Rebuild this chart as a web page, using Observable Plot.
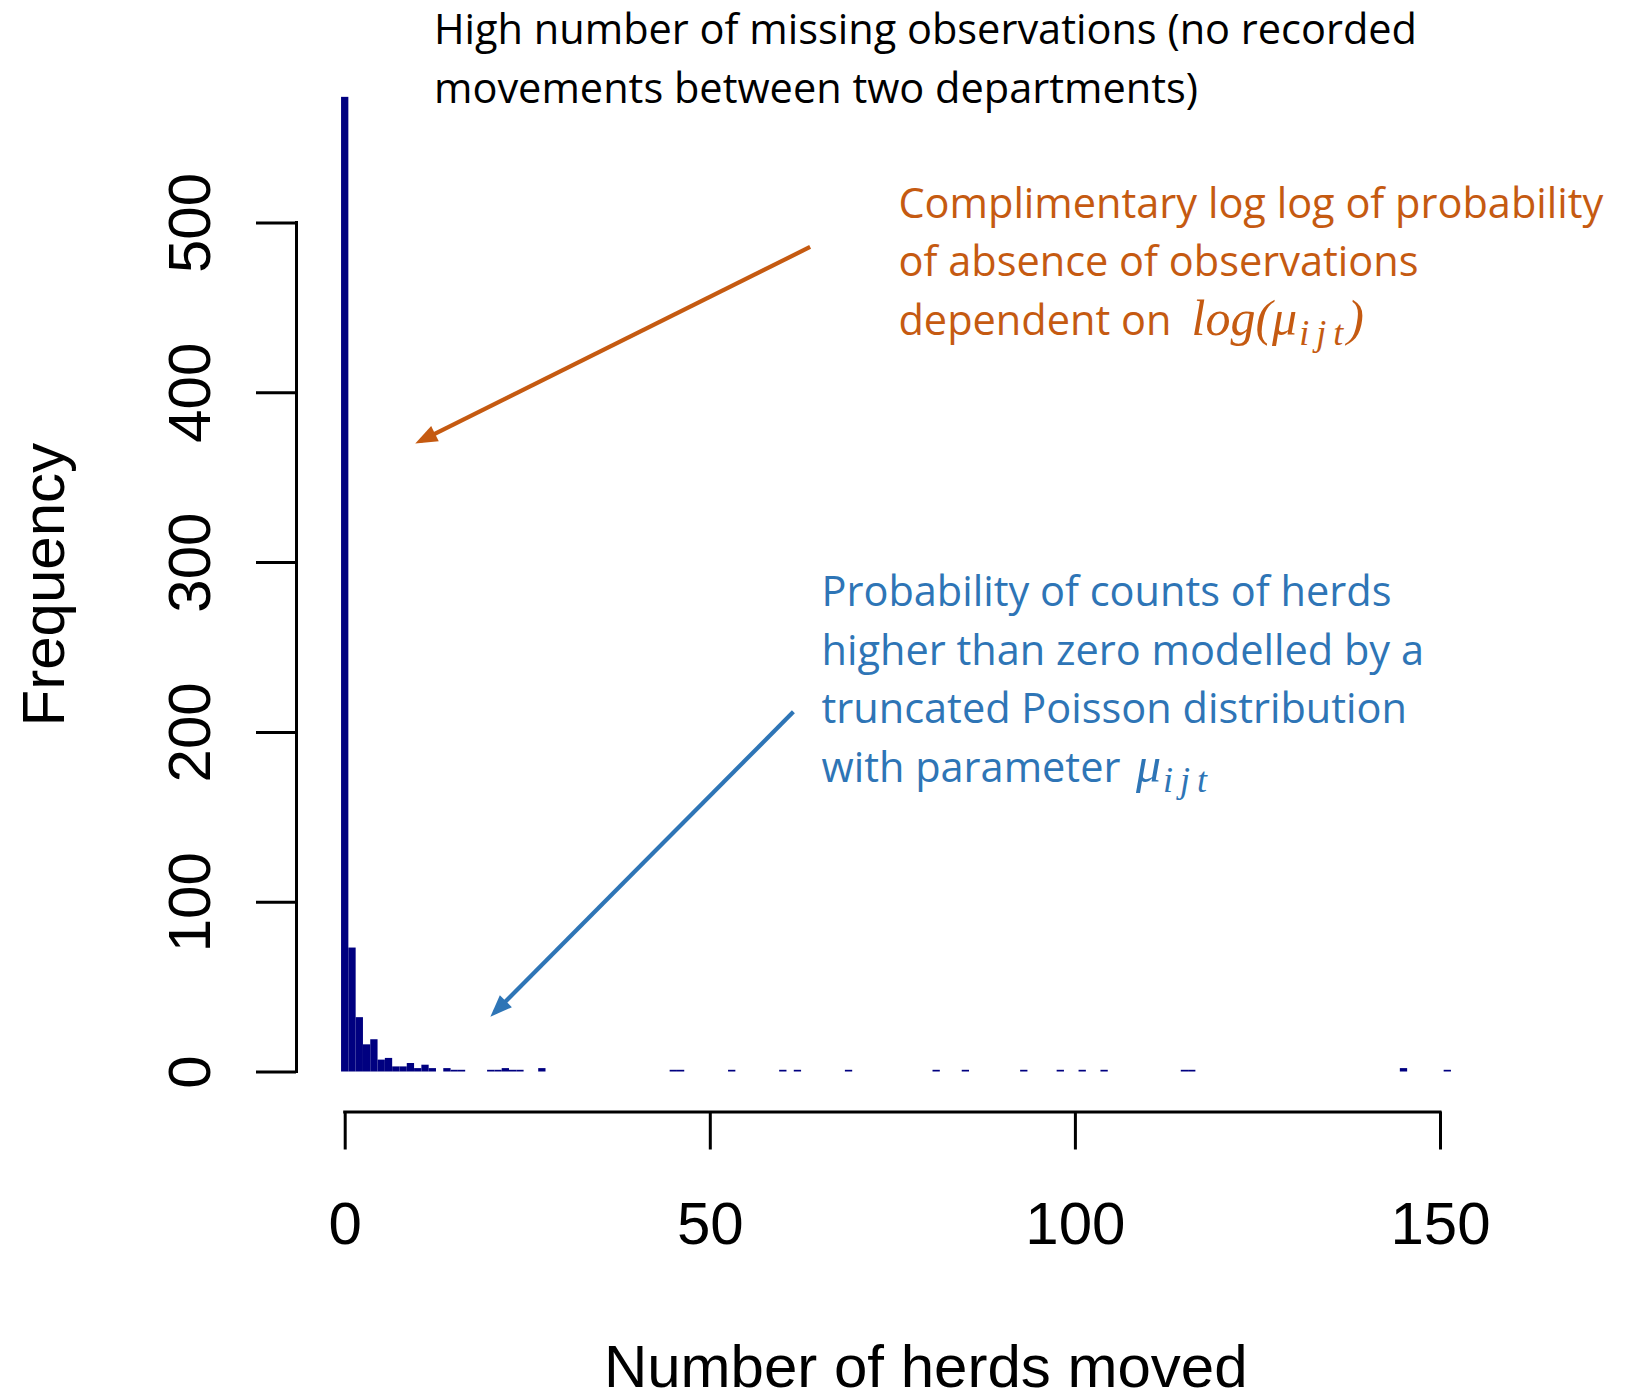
<!DOCTYPE html>
<html>
<head>
<meta charset="utf-8">
<script src="https://cdn.jsdelivr.net/npm/d3@7"></script>
<script src="https://cdn.jsdelivr.net/npm/@observablehq/plot@0.6"></script>
<style>
  html, body { margin: 0; padding: 0; background: #fff; overflow: hidden; }
</style>
</head>
<body>
<div id="chart"></div>
<script>
// Histogram: number of herds moved between two departments (unit-width bins centred on each count)
const herdsMoved = [0, 1, 2, 3, 4, 5, 6, 7, 8, 9, 10, 11, 12, 14, 15, 16, 20, 21, 22, 23, 24, 27,
                    45, 46, 53, 60, 62, 69, 81, 85, 93, 98, 101, 104, 115, 116, 145, 151];
const frequency  = [574, 73, 32, 16, 19, 7, 8, 3, 3, 5, 2, 4, 2, 2, 1, 1, 1, 1, 2, 1, 1, 2,
                    1, 1, 1, 1, 1, 1, 1, 1, 1, 1, 1, 1, 1, 1, 2, 1];
const xTicks = [0, 50, 100, 150];
const yTicks = [0, 100, 200, 300, 400, 500];

const bins = herdsMoved.map((value, i) => ({value, count: frequency[i]}));

const ORANGE = "#C55A11";
const BLUE = "#2E75B6";
const AXIS_FONT = "Liberation Sans, Arial, Helvetica, sans-serif";
const NOTE_FONT = "Open Sans, sans-serif";
const MATH_FONT = "Liberation Serif, Times New Roman, serif";
const NOTE_SIZE = 41.5;
const MATH_SIZE = 50;
const SUB_SIZE = 36;

// Annotation layout, expressed in chart units (herds, frequency); y is the last line's baseline
const noteBlocks = [
  {x: 12.16, y: 570.7, fill: "black",
   text: "High number of missing observations (no recorded\nmovements between two departments)"},
  {x: 75.77, y: 468.6, fill: ORANGE,
   text: "Complimentary log log of probability\nof absence of observations"},
  {x: 75.77, y: 434.2, fill: ORANGE, text: "dependent on"},
  {x: 65.23, y: 205.3, fill: BLUE,
   text: "Probability of counts of herds\nhigher than zero modelled by a\ntruncated Poisson distribution"},
  {x: 65.23, y: 170.8, fill: BLUE, text: "with parameter"}
];
const mathNotes = [
  {x: 115.9, y: 434.2, fill: ORANGE, text: "log(μ_{ijt})"},
  {x: 108.3, y: 170.8, fill: BLUE, text: "μ_{ijt}"}
];
const arrows = [
  {x1: 63.67, y1: 485.9, x2: 10.33, y2: 371.7, stroke: ORANGE},
  {x1: 61.38, y1: 212.1, x2: 20.46, y2: 35.0, stroke: BLUE}
];

// Solid triangular arrowhead
function solidHead(color, context) {
  const ns = "http://www.w3.org/2000/svg";
  const doc = (context && context.document) || document;
  const marker = doc.createElementNS(ns, "marker");
  marker.setAttribute("viewBox", "-18 -10 26 20");
  marker.setAttribute("markerWidth", 26);
  marker.setAttribute("markerHeight", 20);
  marker.setAttribute("markerUnits", "userSpaceOnUse");
  marker.setAttribute("orient", "auto");
  marker.setAttribute("refX", 0);
  marker.setAttribute("refY", 0);
  const path = doc.createElementNS(ns, "path");
  path.setAttribute("d", "M6,0L-16,-8.5L-16,8.5Z");
  path.setAttribute("fill", color);
  marker.appendChild(path);
  return marker;
}

// Layout
const W = 1638, H = 1392;
const M = {left: 344.7, right: 198, top: 222.5, bottom: 320.5};
const frameW = W - M.left - M.right;
const frameH = H - M.top - M.bottom;
const axisOffset = 48.7;   // gap between plotting region and y axis (px)
const xAxisOffset = 40;    // gap between plotting region and x axis (px)
const yTickLen = 40, xTickLen = 38;

const chart = Plot.plot({
  width: W,
  height: H,
  marginLeft: M.left,
  marginRight: M.right,
  marginTop: M.top,
  marginBottom: M.bottom,
  style: {fontFamily: AXIS_FONT, background: "white", color: "black"},
  x: {domain: [0, 150], axis: null},
  y: {domain: [0, 500], axis: null},
  marks: [
    // bars
    Plot.rectY(bins, {
      x1: d => d.value - 0.5,
      x2: d => d.value + 0.5,
      y1: 0,
      y2: "count",
      fill: "#000080",
      inset: 0
    }),

    // y axis: line, ticks, labels, title
    Plot.ruleX([0], {y1: 0, y2: 500, dx: -axisOffset, stroke: "black", strokeWidth: 3, strokeLinecap: "square"}),
    Plot.ruleY(yTicks, {y: d => d, insetRight: frameW - yTickLen, dx: -axisOffset - yTickLen,
                        stroke: "black", strokeWidth: 3}),
    Plot.text(yTicks, {
      y: d => d, text: d => String(d), frameAnchor: "left", dx: -135.7,
      rotate: -90, textAnchor: "middle", lineAnchor: "bottom",
      fontSize: 60, fill: "black"
    }),
    Plot.text(["Frequency"], {
      y: () => d3.max(frequency) / 2, text: d => d, frameAnchor: "left", dx: -281.5,
      rotate: -90, textAnchor: "middle", lineAnchor: "bottom",
      fontSize: 60, fill: "black"
    }),

    // x axis: line, ticks, labels, title
    Plot.ruleY([0], {x1: 0, x2: 150, dy: xAxisOffset, stroke: "black", strokeWidth: 3, strokeLinecap: "square"}),
    Plot.ruleX(xTicks, {x: d => d, insetTop: frameH - xTickLen, dy: xAxisOffset + xTickLen,
                        stroke: "black", strokeWidth: 3}),
    Plot.text(xTicks, {
      x: d => d, text: d => String(d), frameAnchor: "bottom", dy: 171.5,
      textAnchor: "middle", lineAnchor: "bottom", fontSize: 60, fill: "black"
    }),
    Plot.text(["Number of herds moved"], {
      x: () => 79.5, text: d => d, frameAnchor: "bottom", dy: 315,
      textAnchor: "middle", lineAnchor: "bottom", fontSize: 60, fill: "black"
    }),

    // annotations
    Plot.link(arrows, {
      x1: "x1", y1: "y1", x2: "x2", y2: "y2",
      stroke: d => d.stroke, strokeWidth: 4.2, markerEnd: solidHead
    }),
    Plot.text(noteBlocks, {
      x: "x", y: "y", text: "text", fill: d => d.fill,
      textAnchor: "start", lineAnchor: "bottom", lineHeight: 58.5 / NOTE_SIZE,
      fontSize: NOTE_SIZE, fontFamily: NOTE_FONT
    }),
    Plot.text(mathNotes, {
      x: "x", y: "y", text: "text", fill: d => d.fill,
      textAnchor: "start", lineAnchor: "bottom",
      fontSize: MATH_SIZE, fontFamily: MATH_FONT, fontStyle: "italic"
    })
  ]
});

// Turn "_{...}" into a lowered, smaller subscript
d3.select(chart).selectAll("text").each(function () {
  if (this.querySelector("tspan")) return;
  const s = this.textContent;
  const m = s.match(/^(.*)_\{(.*?)\}(.*)$/);
  if (!m) return;
  const shift = 10;
  const t = d3.select(this).text(null);
  t.append("tspan").text(m[1]);
  t.append("tspan")
    .attr("font-size", SUB_SIZE)
    .attr("dy", shift)
    .attr("dx", 2)
    .attr("letter-spacing", 7)
    .text(m[2]);
  if (m[3]) t.append("tspan").attr("dy", -shift).attr("dx", -3).text(m[3]);
});

document.getElementById("chart").appendChild(chart);
</script>
</body>
</html>
